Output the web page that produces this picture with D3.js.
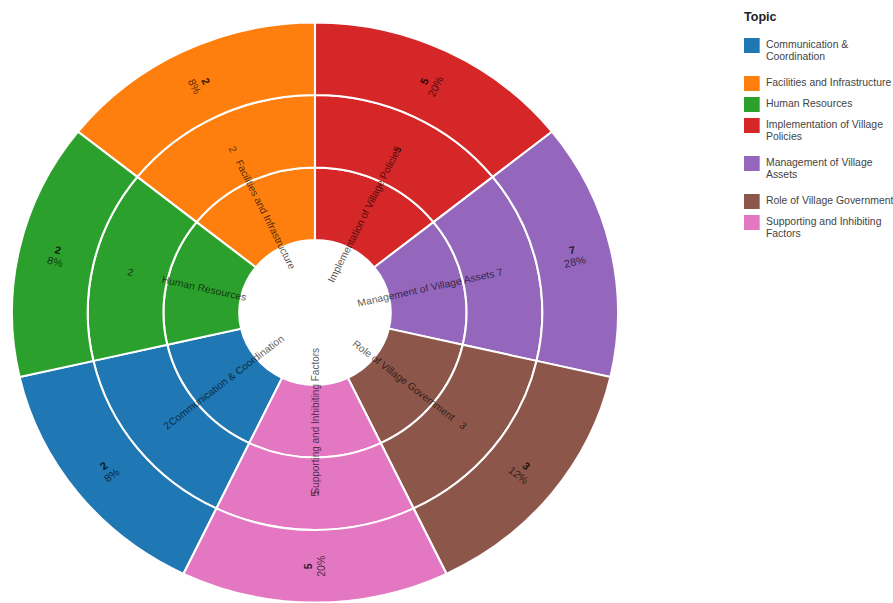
<!DOCTYPE html>
<html>
<head>
<meta charset="utf-8">
<script src="https://cdn.jsdelivr.net/npm/d3@7/dist/d3.min.js"></script>
<style>
  html, body { margin: 0; padding: 0; background: #fff; }
  svg { display: block; font-family: "Liberation Sans", Arial, sans-serif; }
</style>
</head>
<body>
<svg id="chart" width="893" height="603"></svg>
<script>
// Topics in legend order, with their counts and shares
const topics = [
  "Communication & Coordination",
  "Facilities and Infrastructure",
  "Human Resources",
  "Implementation of Village Policies",
  "Management of Village Assets",
  "Role of Village Government",
  "Supporting and Inhibiting Factors"
];
const counts = [2, 2, 2, 5, 7, 3, 5];
const shares = ["8%", "8%", "8%", "20%", "28%", "12%", "20%"];
const colors = ["#1f77b4", "#ff7f0e", "#2ca02c", "#d62728", "#9467bd", "#8c564b", "#e377c2"];

// Clockwise order of sectors starting at twelve o'clock
const wheelOrder = [
  "Implementation of Village Policies",
  "Management of Village Assets",
  "Role of Village Government",
  "Supporting and Inhibiting Factors",
  "Communication & Coordination",
  "Human Resources",
  "Facilities and Infrastructure"
];

// Legend entries broken into lines
const legendLines = [
  ["Communication &", "Coordination"],
  ["Facilities and Infrastructure"],
  ["Human Resources"],
  ["Implementation of Village", "Policies"],
  ["Management of Village", "Assets"],
  ["Role of Village Government"],
  ["Supporting and Inhibiting", "Factors"]
];
const legendTitle = "Topic";

const rows = topics.map((t, i) => ({ topic: t, count: counts[i], share: shares[i], color: colors[i] }));

const sx = 1.045;               // horizontal stretch of the whole drawing
const cx = 315 / sx, cy = 312.5;

const svg = d3.select("#chart");
const root = svg.append("g").attr("transform", `scale(${sx},1)`);

const angle = d3.scaleBand().domain(wheelOrder).range([0, 2 * Math.PI]).paddingInner(0).paddingOuter(0);
const ring = d3.scaleLinear().domain([0, 3]).range([72.5, 290]);
const color = d3.scaleOrdinal().domain(topics).range(colors);

const arc = d3.arc();
const wheel = root.append("g").attr("transform", `translate(${cx},${cy})`);

// three concentric bands per topic
const cells = [];
rows.forEach(d => {
  for (let k = 0; k < 3; k++) {
    cells.push({
      d, k,
      startAngle: angle(d.topic),
      endAngle: angle(d.topic) + angle.bandwidth(),
      innerRadius: ring(k),
      outerRadius: ring(k + 1)
    });
  }
});

wheel.selectAll("path.cell")
  .data(cells)
  .join("path")
  .attr("class", "cell")
  .attr("d", c => arc(c))
  .attr("fill", c => color(c.d.topic))
  .attr("stroke", "#fff")
  .attr("stroke-width", 2);

function mid(d) { return angle(d.topic) + angle.bandwidth() / 2; }
function place(d, r) {
  const a = mid(d);
  const deg = a * 180 / Math.PI;
  let rot = deg - 90;
  if (deg > 179.9) rot -= 180;
  return `translate(${r * Math.sin(a)},${-r * Math.cos(a)}) rotate(${rot})`;
}

const textFill = "rgba(0,0,0,0.68)";

// topic names in the inner band
wheel.selectAll("text.name")
  .data(rows)
  .join("text")
  .attr("class", "name")
  .attr("transform", d => place(d, (ring(0) + ring(1)) / 2))
  .attr("text-anchor", "middle")
  .attr("dy", "0.35em")
  .attr("font-size", 10)
  .attr("fill", textFill)
  .text(d => d.topic);

// counts in the middle band
wheel.selectAll("text.mid")
  .data(rows)
  .join("text")
  .attr("class", "mid")
  .attr("transform", d => place(d, (ring(1) + ring(2)) / 2))
  .attr("text-anchor", "middle")
  .attr("dy", "0.35em")
  .attr("font-size", 10)
  .attr("fill", textFill)
  .text(d => d.count);

// count and share in the outer band
const outer = wheel.selectAll("g.outer")
  .data(rows)
  .join("g")
  .attr("class", "outer")
  .attr("transform", d => place(d, (ring(2) + ring(3)) / 2));
outer.append("text")
  .attr("text-anchor", "middle")
  .attr("y", -2.5)
  .attr("font-size", 10.5)
  .attr("font-weight", "bold")
  .attr("fill", "rgba(0,0,0,0.8)")
  .text(d => d.count);
outer.append("text")
  .attr("text-anchor", "middle")
  .attr("y", 9.5)
  .attr("font-size", 10.5)
  .attr("fill", "rgba(0,0,0,0.7)")
  .text(d => d.share);

// legend
const lx = 744 / sx;
const legend = root.append("g").attr("transform", `translate(${lx},0)`);
legend.append("text")
  .attr("x", 0).attr("y", 21)
  .attr("font-size", 12).attr("font-weight", "bold").attr("fill", "#222")
  .text(legendTitle);

let y = 38;
rows.forEach((d, i) => {
  const g = legend.append("g").attr("transform", `translate(0,${y})`);
  g.append("rect").attr("width", 15).attr("height", 15).attr("fill", d.color);
  legendLines[i].forEach((ln, j) => {
    g.append("text")
      .attr("x", 21).attr("y", 10.5 + j * 12)
      .attr("font-size", 10).attr("fill", "#444")
      .text(ln);
  });
  y += legendLines[i].length > 1 ? 38 : 21;
});
</script>
</body>
</html>
